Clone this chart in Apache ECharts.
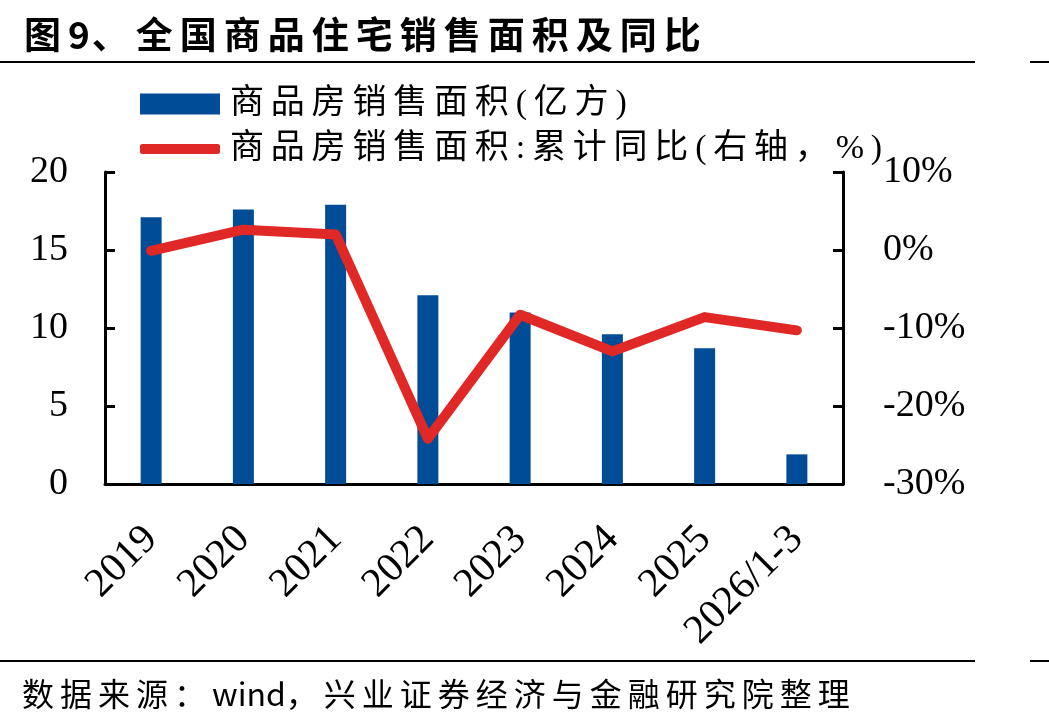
<!DOCTYPE html>
<html>
<head>
<meta charset="utf-8">
<script src="https://cdn.jsdelivr.net/npm/echarts@6/dist/echarts.min.js"></script>
<style>
    body { margin: 0; background: #fff; }
    #wrap { position: relative; width: 1049px; height: 726px; overflow: hidden; }
    #chart { position: absolute; left: 0; top: 0; width: 1049px; height: 726px; }
    .title { position: absolute; left: 24px; top: 6px; font-family: "Noto Sans CJK SC"; font-weight: bold; font-size: 37px; letter-spacing: 7px; color: #000; white-space: nowrap; }
    .title .num { letter-spacing: 2px; }
    .source { position: absolute; left: 22px; top: 669px; font-family: "Noto Sans CJK SC"; font-size: 32px; letter-spacing: 6px; color: #000; white-space: nowrap; }
    .source .latin { letter-spacing: 0; }
    .rule { position: absolute; height: 2px; background: #000; }
</style>
</head>
<body>
<div id="wrap">
    <div id="chart"></div>
    <div class="title">图<span class="num">9</span>、全国商品住宅销售面积及同比</div>
    <div class="rule" style="left:0;top:61px;width:975px"></div>
    <div class="rule" style="left:1030px;top:61px;width:19px"></div>
    <div class="rule" style="left:0;top:660px;width:975px"></div>
    <div class="rule" style="left:1030px;top:660px;width:19px"></div>
    <div class="source">数据来源：<span class="latin">wind</span>，兴业证券经济与金融研究院整理</div>
</div>
<script>
let categories = ["2019", "2020", "2021", "2022", "2023", "2024", "2025", "2026/1-3"];
let areaValues = [17.1, 17.6, 17.9, 12.1, 11.0, 9.6, 8.7, 1.9];
let yoyValues = [-0.1, 2.6, 2.0, -24.2, -8.3, -13.0, -8.6, -10.3];
let areaName = "商品房销售面积(亿方)";
let yoyName = "商品房销售面积:累计同比(右轴，%)";

let serif = "'Liberation Serif', 'Times New Roman', serif";
let legendFont = "'Liberation Serif', 'Noto Sans CJK SC'";

function spaced(name) {
    return name.split("").join("\u2009");
}

let chart = echarts.init(document.getElementById("chart"));
let option = {
    animation: false,
    grid: {
        left: 105,
        right: 206,
        top: 172,
        bottom: 242,
    },
    legend: [
        {
            data: [areaName],
            left: 135,
            top: 82,
            icon: "rect",
            itemWidth: 80,
            itemHeight: 21,
            formatter: spaced,
            textStyle: {
                fontFamily: legendFont,
                fontSize: 34,
                color: "#000",
                padding: [0, 0, 0, 5],
            }
        },
        {
            data: [yoyName],
            left: 135,
            top: 127,
            icon: "roundRect",
            itemWidth: 80,
            itemHeight: 10,
            formatter: spaced,
            textStyle: {
                fontFamily: legendFont,
                fontSize: 34,
                color: "#000",
                padding: [0, 0, 0, 5],
            }
        }
    ],
    xAxis: {
        type: "category",
        data: categories,
        axisLine: {
            lineStyle: { color: "#000", width: 3 }
        },
        axisTick: { show: false },
        axisLabel: {
            rotate: 45,
            margin: 49,
            interval: 0,
            fontFamily: serif,
            fontSize: 41,
            color: "#000",
        },
    },
    yAxis: [
        {
            type: "value",
            min: 0,
            max: 20,
            interval: 5,
            axisLine: {
                show: true,
                lineStyle: { color: "#000", width: 3 }
            },
            axisTick: {
                show: true,
                inside: true,
                length: 10,
                lineStyle: { width: 3 }
            },
            splitLine: { show: false },
            axisLabel: {
                margin: 37,
                fontFamily: serif,
                fontSize: 38,
                color: "#000",
            },
        },
        {
            type: "value",
            min: -30,
            max: 10,
            interval: 10,
            axisLine: {
                show: true,
                lineStyle: { color: "#000", width: 3 }
            },
            axisTick: {
                show: true,
                inside: true,
                length: 10,
                lineStyle: { width: 3 }
            },
            splitLine: { show: false },
            axisLabel: {
                margin: 40,
                formatter: "{value}%",
                fontFamily: serif,
                fontSize: 38,
                color: "#000",
            },
        }
    ],
    series: [
        {
            name: areaName,
            type: "bar",
            data: areaValues,
            barWidth: 21,
            itemStyle: { color: "#004c97" },
        },
        {
            name: yoyName,
            type: "line",
            yAxisIndex: 1,
            data: yoyValues,
            symbol: "none",
            itemStyle: { color: "#e02826" },
            lineStyle: {
                color: "#e02826",
                width: 10,
                cap: "round",
                join: "round",
            },
        }
    ]
};
chart.setOption(option);
</script>
</body>
</html>
